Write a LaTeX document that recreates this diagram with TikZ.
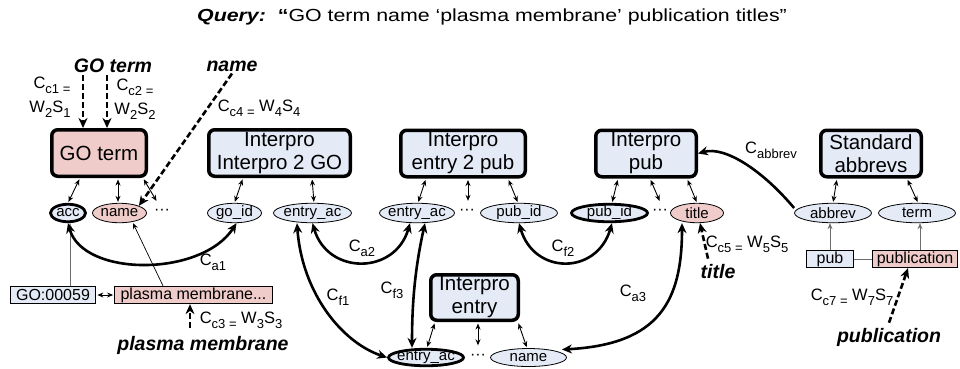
\documentclass[tikz,border=0pt]{standalone}
\usepackage{fontspec}
\usepackage{graphicx}
\setmainfont{Liberation Sans}
\usetikzlibrary{shapes.geometric,arrows.meta,calc}
\definecolor{pinkf}{RGB}{239,204,201}
\definecolor{bluef}{RGB}{228,235,247}
\definecolor{lgray}{RGB}{110,110,110}
\newcommand{\lsub}[1]{\raisebox{-0.28em}{\fontsize{13}{14}\selectfont #1}}
\begin{document}
\begin{tikzpicture}[x=1pt,y=-1pt,
  tbl/.style={draw, line width=3.5pt, rounded corners=6pt, fill=bluef, align=center, inner sep=0pt, minimum height=46.5pt, font=\fontsize{20.5}{23}\selectfont},
  attr/.style={ellipse, draw, line width=0.8pt, fill=bluef, inner xsep=-20pt, inner ysep=-6pt, minimum height=19.5pt, font=\fontsize{15}{17}\selectfont},
  keyattr/.style={attr, line width=2.8pt, minimum height=17.5pt},
  val/.style={draw, line width=0.8pt, fill=bluef, inner sep=0pt, minimum height=17.5pt, font=\fontsize{16}{18}\selectfont},
  dotsn/.style={inner sep=0pt, minimum height=20pt, font=\fontsize{16}{18}\selectfont},
  link/.style={line width=0.9pt, {Stealth[length=6pt,width=5pt]}-{Stealth[length=6pt,width=5pt]}, shorten <=1.5pt, shorten >=1pt},
  curv/.style={line width=2.6pt, {Stealth[length=10pt,width=9pt]}-{Stealth[length=10pt,width=9pt]}},
  curvone/.style={line width=2.6pt, -{Stealth[length=10pt,width=9pt]}},
  dsh/.style={line width=2.6pt, dash pattern=on 6pt off 3pt, -{Stealth[length=10pt,width=9pt]}},
  gline/.style={line width=0.9pt, lgray, -{Stealth[length=6pt,width=5pt]}},
  thinarr/.style={line width=0.7pt, -{Stealth[length=6pt,width=5pt]}},
  qlbl/.style={font=\fontsize{19.5}{22}\selectfont\bfseries\itshape, inner sep=1pt},
  clbl/.style={font=\fontsize{16.5}{18}\selectfont, inner sep=0pt}
]
\useasboundingbox (0,0) rectangle (960,368);

% title
\node (query) at (492,17) {\fontsize{17.5}{20}\selectfont\scalebox{1.22}[1]{\textbf{\textit{Query:}}\ \ \textbf{“}GO term name ‘plasma membrane’ publication titles”}};

% tables
\node[tbl, fill=pinkf, minimum width=94.5pt] (goterm) at (99,153) {GO term};
\node[tbl, minimum width=141.5pt] (ip2go) at (279.5,153) {Interpro\\Interpro 2 GO};
\node[tbl, minimum width=124.5pt] (ie2p) at (463,153.5) {Interpro\\entry 2 pub};
\node[tbl, minimum width=100.5pt] (ipub) at (646,153.5) {Interpro\\pub};
\node[tbl, minimum width=100.5pt] (stdab) at (871,153.5) {Standard\\abbrevs};
\node[tbl, minimum width=87.5pt, minimum height=45.5pt] (ientry) at (474.5,297.5) {Interpro\\entry};

% attributes
\node[keyattr, minimum width=35pt] (acc) at (68,213) {acc};
\node[attr, fill=pinkf, minimum width=54pt] (name1) at (119.5,213) {name};
\node[dotsn] (dots1) at (162,212) {···};
\node[attr, minimum width=54pt] (goid) at (234.5,213) {go\_id};
\node[attr, minimum width=78pt] (eac1) at (312.5,213) {entry\_ac};
\node[attr, minimum width=75pt] (eac2) at (417,213) {entry\_ac};
\node[dotsn] (dots2) at (467,212) {···};
\node[attr, minimum width=77pt] (pubid1) at (519,213) {pub\_id};
\node[keyattr, minimum width=76pt] (pubid2) at (609.5,213) {pub\_id};
\node[dotsn] (dots3) at (660,212) {···};
\node[attr, fill=pinkf, minimum width=53pt] (title) at (697,213) {title};
\node[attr, minimum width=77pt] (abbrev) at (833,213) {abbrev};
\node[attr, minimum width=77pt] (term) at (917,213) {term};
\node[keyattr, minimum width=75pt, minimum height=16.5pt] (eac3) at (426,357.5) {entry\_ac};
\node[dotsn] (dots4) at (478,356.5) {···};
\node[attr, minimum width=76pt, minimum height=18pt] (name2) at (528.5,357.5) {name};

% values
\node[val, minimum width=85pt] (go59) at (53,295) {GO:00059};
\node[val, fill=pinkf, minimum width=158pt] (pm) at (193.5,295) {plasma membrane...};
\node[val, minimum width=47pt] (pub) at (830,259) {pub};
\node[val, fill=pinkf, minimum width=85pt] (publication) at (915,259) {publication};

% query keyword labels
\node[qlbl] (lgoterm) at (113,66) {GO term};
\node[qlbl] (lname) at (232,66) {name};
\node[qlbl] (lpm) at (203,345) {plasma membrane};
\node[qlbl] (ltitle) at (718,272) {title};
\node[qlbl] (lpub) at (889,337) {publication};

% cost labels
\node[clbl] (c1a) at (52,85) {C\lsub{c1 =}};
\node[clbl] (c1b) at (50,109) {W\lsub{2}S\lsub{1}};
\node[clbl] (c2a) at (135,87) {C\lsub{c2 =}};
\node[clbl] (c2b) at (135,111) {W\lsub{2}S\lsub{2}};
\node[clbl] (c4) at (259,108) {C\lsub{c4 =} W\lsub{4}S\lsub{4}};
\node[clbl] (c3) at (241,320) {C\lsub{c3 =} W\lsub{3}S\lsub{3}};
\node[clbl] (c5) at (747,244) {C\lsub{c5 =} W\lsub{5}S\lsub{5}};
\node[clbl] (c7) at (852,297) {C\lsub{c7 =} W\lsub{7}S\lsub{7}};
\node[clbl] (ca1) at (213,262) {C\lsub{a1}};
\node[clbl] (ca2) at (362,248) {C\lsub{a2}};
\node[clbl] (cf1) at (338,297) {C\lsub{f1}};
\node[clbl] (cf3) at (392,290) {C\lsub{f3}};
\node[clbl] (cf2) at (563,248) {C\lsub{f2}};
\node[clbl] (ca3) at (633,293) {C\lsub{a3}};
\node[clbl] (cab) at (771,150) {C\lsub{abbrev}};

% table-attribute links
\draw[link] ([xshift=-19pt]goterm.south) -- (acc.north);
\draw[link] ([xshift=19pt]goterm.south) -- ([xshift=-1.5pt]name1.north);
\draw[link] ([xshift=44pt]goterm.south) -- ([xshift=-5pt]dots1.north);
\draw[link] ([xshift=-36.5pt]ip2go.south) -- (goid.north);
\draw[link] ([xshift=32.5pt]ip2go.south) -- ([xshift=1.5pt]eac1.north);
\draw[link] ([xshift=-37pt]ie2p.south) -- ([xshift=1pt]eac2.north);
\draw[link] ([xshift=5pt]ie2p.south) -- ([xshift=1pt]dots2.north);
\draw[link] ([xshift=45pt]ie2p.south) -- ([xshift=-1pt]pubid1.north);
\draw[link] ([xshift=-28pt]ipub.south) -- ([xshift=2.5pt]pubid2.north);
\draw[link] ([xshift=4pt]ipub.south) -- (dots3.north);
\draw[link] ([xshift=41pt]ipub.south) -- (title.north);
\draw[link] ([xshift=-34pt]stdab.south) -- (abbrev.north);
\draw[link] ([xshift=36pt]stdab.south) -- ([xshift=1pt]term.north);
\draw[link] ([xshift=-39.5pt]ientry.south) -- ([xshift=1pt]eac3.north);
\draw[link] ([xshift=3.5pt]ientry.south) -- (dots4.north);
\draw[link] ([xshift=43.5pt]ientry.south) -- ([xshift=-1.5pt]name2.north);

% value links
\draw[gline] ([xshift=17pt]go59.north) -- ([xshift=2pt]acc.south);
\draw[thinarr] ([xshift=-30.5pt]pm.north) -- ([xshift=13.5pt]name1.south);
\draw[link] (go59.east) -- (pm.west);
\draw[gline] (pub.north) -- ([xshift=-3pt]abbrev.south);
\draw[gline] ([xshift=5pt]publication.north) -- ([xshift=3pt]term.south);
\draw[line width=0.9pt, lgray] (pub.east) -- (publication.west);

% join curves
\draw[curv] (acc.south) .. controls +(15,54) and +(-35,54) .. ([xshift=2pt]goid.south);
\draw[curv] (eac1.south) .. controls +(15,52) and +(-15,52) .. ([xshift=-7pt]eac2.south);
\draw[curv] ([xshift=-15.5pt]eac1.south) .. controls +(5,70) and +(-45,-15) .. (eac3.west);
\draw[curv] ([xshift=8pt]eac2.south) .. controls +(-10,45) and +(0,-45) .. ([xshift=-14pt]eac3.north);
\draw[curv] (pubid1.south) .. controls +(15,52) and +(-15,52) .. ([xshift=2.5pt]pubid2.south);
\draw[curv] ([xshift=-15pt]title.south) .. controls +(0,77) and +(98,-5) .. ($(name2.east)+(-5,-8)$);
\draw[curvone] ($(abbrev.west)+(0,-5)$) .. controls +(-32,-38) and +(27,-7.5) .. (ipub.east);

% keyword dashed arrows
\draw[dsh] ([xshift=-30pt,yshift=-1pt]lgoterm.south) -- ([xshift=-16pt]goterm.north);
\draw[dsh] ([xshift=-6pt,yshift=-1pt]lgoterm.south) -- ([xshift=8pt]goterm.north);
\draw[dsh] ([yshift=-1pt]lname.south) -- (name1.north east);
\draw[dsh] ([xshift=-13pt,yshift=7pt]lpm.north) -- ([xshift=-3.5pt]pm.south);
\draw[dsh] ([xshift=-10pt,yshift=5pt]ltitle.north) -- ([xshift=3pt]title.south);
\draw[dsh] ([yshift=4pt]lpub.north) -- ([xshift=-7pt]publication.south);
\end{tikzpicture}
\end{document}
